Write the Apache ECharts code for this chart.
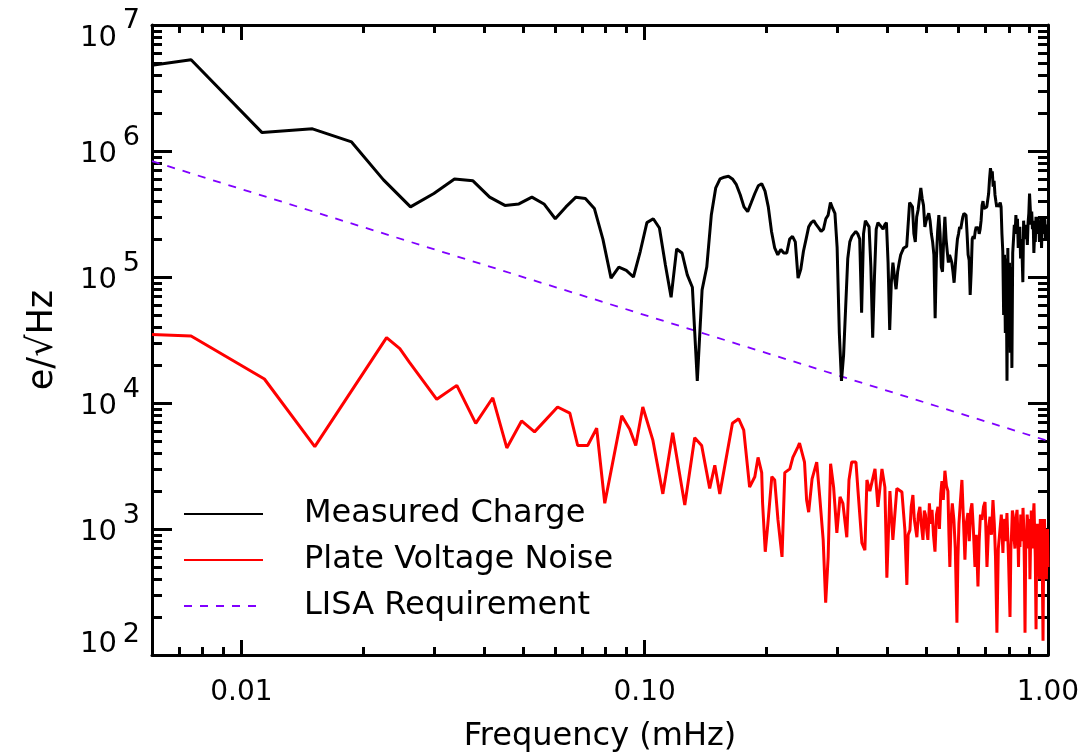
<!DOCTYPE html>
<html>
<head>
<meta charset="utf-8">
<script src="https://cdn.jsdelivr.net/npm/echarts@6/dist/echarts.min.js"></script>
<style>
  html, body { margin: 0; padding: 0; background: #fff; }
  #chart { width: 1087px; height: 755px; }
</style>
</head>
<body>
<div id="chart"></div>
<script>
// Series names
const seriesNames = ['Measured Charge', 'Plate Voltage Noise', 'LISA Requirement'];

// Measured charge spectrum: [frequency (mHz), e/sqrt(Hz)]
const measuredCharge = [
  [0.006,4.8e6],[0.0075,5.3e6],[0.01125,1.4e6],[0.015,1.5e6],[0.01875,1.18e6],[0.0225,5.9e5],
  [0.02625,3.6e5],[0.03,4.6e5],[0.03375,6.0e5],[0.0375,5.8e5],[0.04125,4.3e5],[0.045,3.7e5],
  [0.04875,3.8e5],[0.0525,4.3e5],[0.05625,3.8e5],[0.06,2.9e5],[0.06375,3.6e5],[0.0675,4.3e5],
  [0.07125,4.2e5],[0.075,3.5e5],[0.07875,2.0e5],[0.0825,9.8e4],[0.08625,1.2e5],[0.09,1.13e5],
  [0.09375,1.0e5],[0.0975,1.6e5],[0.10125,2.7e5],[0.105,2.9e5],[0.10875,2.45e5],[0.1125,1.25e5],
  [0.11625,6.9e4],[0.12,1.67e5],[0.12375,1.55e5],[0.1275,1.04e5],[0.13125,8.3e4],[0.135,1.5e4],
  [0.13875,7.9e4],[0.1425,1.2e5],[0.14625,3.1e5],[0.15,5.1e5],[0.15375,6.0e5],[0.1575,6.2e5],
  [0.16125,6.3e5],[0.165,6.0e5],[0.16875,5.4e5],[0.1725,4.5e5],[0.17625,3.6e5],[0.18,3.3e5],
  [0.18375,3.9e5],[0.1875,4.6e5],[0.19125,5.3e5],[0.195,5.5e5],[0.19875,4.8e5],[0.2025,3.6e5],
  [0.20625,2.3e5],[0.21,1.7e5],[0.21375,1.5e5],[0.2175,1.65e5],[0.22125,1.55e5],[0.225,1.55e5],
  [0.22875,2.0e5],[0.2325,2.1e5],[0.23625,1.9e5],[0.24,9.8e4],[0.24375,1.15e5],[0.2475,1.6e5],
  [0.25125,2.0e5],[0.255,2.5e5],[0.25875,2.7e5],[0.2625,2.8e5],[0.26625,2.6e5],[0.27,2.45e5],
  [0.27375,2.3e5],[0.2775,2.4e5],[0.28125,2.9e5],[0.285,3.1e5],[0.28875,3.9e5],[0.2925,3.5e5],
  [0.29625,3.2e5],[0.3,1.7e5],[0.30375,3.6e4],[0.3075,1.5e4],[0.31125,2.4e4],[0.315,5.8e4],
  [0.31875,1.4e5],[0.3225,1.9e5],[0.32625,2.1e5],[0.33,2.2e5],[0.33375,2.3e5],[0.3375,2.2e5],
  [0.34125,2.0e5],[0.345,5.2e4],[0.34875,2.2e5],[0.3525,2.8e5],[0.35625,2.8e5],[0.36,2.5e5],
  [0.36375,1.2e5],[0.3675,3.3e4],[0.37125,1.0e5],[0.375,2.4e5],[0.37875,2.7e5],[0.3825,2.7e5],
  [0.38625,2.5e5],[0.39,2.4e5],[0.39375,2.6e5],[0.3975,2.7e5],[0.40125,1.3e5],[0.405,3.8e4],
  [0.40875,9.0e4],[0.4125,1.3e5],[0.41625,1.0e5],[0.42,8.0e4],[0.42375,1.1e5],[0.4275,1.3e5],
  [0.43125,1.5e5],[0.435,1.6e5],[0.43875,1.7e5],[0.4425,1.7e5],[0.44625,1.75e5],[0.45,1.8e5],
  [0.45375,3.9e5],[0.4575,3.8e5],[0.46125,3.6e5],[0.465,2.2e5],[0.46875,1.9e5],[0.4725,3.0e5],
  [0.47625,3.4e5],[0.48,3.3e5],[0.48375,5.1e5],[0.4875,4.2e5],[0.49125,3.7e5],[0.495,2.5e5],
  [0.49875,2.8e5],[0.5025,3.0e5],[0.50625,3.2e5],[0.51,2.8e5],[0.51375,2.2e5],[0.5175,1.9e5],
  [0.52125,1.5e5],[0.525,4.7e4],[0.52875,1.4e5],[0.5325,2.3e5],[0.53625,3.1e5],[0.54,2.2e5],
  [0.54375,1.2e5],[0.5475,1.1e5],[0.55125,2.0e5],[0.555,3.0e5],[0.55875,2.0e5],[0.5625,1.6e5],
  [0.56625,1.3e5],[0.57,1.5e5],[0.57375,1.4e5],[0.5775,1.3e5],[0.58125,1.1e5],[0.585,9.0e4],
  [0.58875,1.2e5],[0.5925,1.6e5],[0.59625,2.0e5],[0.6,2.2e5],[0.60375,2.5e5],[0.6075,2.4e5],
  [0.61125,2.7e5],[0.615,3.0e5],[0.61875,3.2e5],[0.6225,3.3e5],[0.62625,3.1e5],[0.63,2.2e5],
  [0.63375,1.5e5],[0.6375,1.36e5],[0.64125,7.2e4],[0.645,1.1e5],[0.64875,2.0e5],[0.6525,2.1e5],
  [0.65625,2.0e5],[0.66,2.3e5],[0.66375,2.5e5],[0.6675,2.4e5],[0.67125,2.5e5],[0.675,2.2e5],
  [0.67875,2.4e5],[0.6825,2.8e5],[0.68625,3.7e5],[0.69,4.0e5],[0.69375,3.5e5],[0.6975,3.4e5],
  [0.70125,3.5e5],[0.705,3.6e5],[0.70875,3.5e5],[0.7125,4.6e5],[0.71625,6.0e5],[0.72,7.3e5],
  [0.72375,6.5e5],[0.7275,6.9e5],[0.73125,5.2e5],[0.735,5.8e5],[0.73875,4.5e5],[0.7425,4.0e5],
  [0.74625,3.6e5],[0.75,3.8e5],[0.75375,3.6e5],[0.7575,3.7e5],[0.76125,3.9e5],[0.765,3.6e5],
  [0.76875,2.2e5],[0.7725,1.6e5],[0.77625,5.0e4],[0.78,1.5e5],[0.78375,3.6e4],[0.7875,1.4e5],
  [0.79125,1.5e4],[0.795,1.7e5],[0.79875,4.0e4],[0.8025,1.3e5],[0.80625,2.5e4],[0.81,1.2e5],
  [0.81375,1.9e4],[0.8175,1.55e5],[0.82125,2.0e5],[0.825,2.6e5],[0.82875,2.2e5],[0.8325,3.1e5],
  [0.83625,2.4e5],[0.84,2.9e5],[0.84375,1.7e5],[0.8475,2.2e5],[0.85125,2.5e5],[0.855,1.4e5],
  [0.85875,2.0e5],[0.8625,1.5e5],[0.86625,9.1e4],[0.87,2.8e5],[0.87375,2.0e5],[0.8775,2.6e5],
  [0.88125,2.2e5],[0.885,2.4e5],[0.88875,1.8e5],[0.8925,2.7e5],[0.89625,3.2e5],[0.9,4.6e5],
  [0.90375,3.5e5],[0.9075,2.6e5],[0.91125,3.3e5],[0.915,2.4e5],[0.91875,2.8e5],[0.9225,1.55e5],
  [0.92625,2.2e5],[0.93,1.9e5],[0.93375,3.0e5],[0.9375,2.2e5],[0.94125,3.0e5],[0.945,2.3e5],
  [0.94875,2.6e5],[0.9525,1.9e5],[0.95625,2.5e5],[0.96,3.0e5],[0.96375,1.7e5],[0.9675,2.6e5],
  [0.97125,2.9e5],[0.975,2.2e5],[0.97875,3.0e5],[0.9825,2.8e5],[0.98625,2.0e5],[0.99,2.6e5],
  [0.99375,2.3e5],[0.9975,2.2e5]
];

// Plate voltage noise spectrum: [frequency (mHz), e/sqrt(Hz)]
const plateVoltageNoise = [
  [0.006,3.5e4],[0.0075,3.4e4],[0.0114,1.55e4],[0.0152,4.5e3],[0.0229,3.3e4],[0.0247,2.7e4],
  [0.0261,2.1e4],[0.0305,1.07e4],[0.0342,1.38e4],[0.0381,6.9e3],[0.042,1.1e4],[0.0455,4.4e3],
  [0.0495,7.2e3],[0.0533,5.9e3],[0.0608,9.3e3],[0.0652,8.3e3],[0.0682,4.6e3],[0.0722,4.6e3],
  [0.076,6.3e3],[0.0796,1.6e3],[0.0877,7.9e3],[0.0918,6.2e3],[0.095,4.6e3],[0.0989,9.3e3],
  [0.1047,5.1e3],[0.1109,1.9e3],[0.1173,5.8e3],[0.1257,1.55e3],[0.133,5.3e3],[0.1384,4.6e3],
  [0.1449,2.1e3],[0.1492,3.2e3],[0.1535,1.9e3],[0.165,6.9e3],[0.171,7.5e3],[0.176,6.1e3],
  [0.182,2.15e3],[0.1875,2.6e3],[0.191,3.7e3],[0.195,2.8e3],[0.196,1.6e3],[0.199,660],
  [0.202,1.1e3],[0.2066,2.6e3],[0.21,2.45e3],[0.214,1.18e3],[0.219,600],[0.2225,2.8e3],
  [0.229,3.0e3],[0.233,3.7e3],[0.24,4.5e3],[0.242,4.8e3],[0.249,3.4e3],[0.252,1.7e3],
  [0.255,1.36e3],[0.26,2.5e3],[0.267,3.4e3],[0.272,1.7e3],[0.277,820],[0.281,260],
  [0.285,600],[0.289,3.3e3],[0.294,2.15e3],[0.2995,930],[0.305,1.8e3],[0.31,1.6e3],
  [0.317,860],[0.321,2.45e3],[0.326,3.4e3],[0.334,3.4e3],[0.338,2.0e3],[0.3455,775],
  [0.3515,680],[0.3556,2.45e3],[0.3617,2.0e3],[0.3724,3.0e3],[0.3787,1.5e3],[0.3875,3.0e3],
  [0.394,2.15e3],[0.3985,410],[0.4055,2.0e3],[0.4124,820],[0.4219,2.1e3],[0.4342,1.97e3],
  [0.4417,980],[0.4467,360],[0.45,900],[0.4545,980],[0.458,1.5e3],[0.4624,1.86e3],
  [0.466,1.2e3],[0.473,860],[0.477,1.3e3],[0.4812,1.5e3],[0.485,1.1e3],[0.4897,820],
  [0.4935,1.4e3],[0.4967,1.3e3],[0.5,1.0e3],[0.5037,820],[0.508,1.6e3],[0.512,1.1e3],
  [0.5157,1.42e3],[0.52,900],[0.5245,660],[0.529,1.3e3],[0.5336,1.5e3],[0.538,1.0e3],
  [0.542,1.9e3],[0.5457,2.4e3],[0.55,1.7e3],[0.5551,2.9e3],[0.56,2.2e3],[0.5647,2.0e3],
  [0.568,900],[0.571,500],[0.575,1.2e3],[0.579,1.6e3],[0.5843,1.18e3],[0.589,700],
  [0.5945,180],[0.598,600],[0.6014,1.1e3],[0.606,1.6e3],[0.6117,2.45e3],[0.617,1.2e3],
  [0.6223,570],[0.627,1.1e3],[0.633,1.34e3],[0.638,800],[0.643,1.4e3],[0.6477,1.6e3],
  [0.653,1.0e3],[0.659,500],[0.664,900],[0.6704,350],[0.675,800],[0.68,1.3e3],
  [0.686,1.18e3],[0.692,1.5e3],[0.698,1.64e3],[0.702,900],[0.7058,500],[0.712,1.0e3],
  [0.718,1.25e3],[0.724,900],[0.7304,1.7e3],[0.736,1.1e3],[0.741,600],[0.747,150],
  [0.753,700],[0.76,980],[0.766,1.3e3],[0.773,645],[0.777,1.1e3],[0.781,1.2e3],
  [0.786,800],[0.791,1.34e3],[0.798,600],[0.805,200],[0.809,700],[0.812,900],
  [0.816,1.4e3],[0.819,1.3e3],[0.823,900],[0.828,700],[0.833,1.2e3],[0.838,1.42e3],
  [0.842,900],[0.845,500],[0.848,1.0e3],[0.852,720],[0.856,1.3e3],[0.86,1.2e3],
  [0.864,800],[0.867,1.47e3],[0.871,1.0e3],[0.874,500],[0.877,150],[0.881,900],
  [0.884,700],[0.888,1.3e3],[0.892,1.04e3],[0.896,700],[0.899,1.2e3],[0.902,400],
  [0.906,900],[0.909,1.4e3],[0.9127,1.18e3],[0.916,700],[0.92,1.3e3],[0.923,1.6e3],
  [0.927,900],[0.93,600],[0.934,160],[0.937,700],[0.941,1.1e3],[0.9445,980],
  [0.948,600],[0.953,400],[0.957,1.2e3],[0.961,820],[0.965,1.2e3],[0.968,500],
  [0.972,130],[0.976,800],[0.98,1.2e3],[0.983,720],[0.987,1.0e3],[0.991,400],
  [0.994,930],[0.997,1.0e3],[1.0,500]
];

// LISA requirement: [frequency (mHz), e/sqrt(Hz)]
const lisaRequirement = [[0.006, 8.3e5], [1.0, 5.0e3]];

// Axis ranges and tick values
const xRange = [0.006, 1.0];
const yRange = [1e2, 1e7];
const xMajorTicks = [0.01, 0.1, 1.0];
const xMinorTicks = [0.007, 0.008, 0.009, 0.02, 0.03, 0.04, 0.05, 0.06, 0.07, 0.08, 0.09,
                     0.2, 0.3, 0.4, 0.5, 0.6, 0.7, 0.8, 0.9];
const yMajorTicks = [1e2, 1e3, 1e4, 1e5, 1e6, 1e7];
const yMinorTicks = [
  200, 300, 400, 500, 600, 700, 800, 900,
  2e3, 3e3, 4e3, 5e3, 6e3, 7e3, 8e3, 9e3,
  2e4, 3e4, 4e4, 5e4, 6e4, 7e4, 8e4, 9e4,
  2e5, 3e5, 4e5, 5e5, 6e5, 7e5, 8e5, 9e5,
  2e6, 3e6, 4e6, 5e6, 6e6, 7e6, 8e6, 9e6
];
// Decade labels (10 with a raised exponent); bottom and top ones sit nudged inward
const yLabelsMid = [1e3, 1e4, 1e5, 1e6];
const yLabelsLow = [1e2];
const yLabelsTop = [1e7];

const FONT = 'DejaVu Sans';
const INK = '#000';
const FRAME_W = 3;

function xAxisDef(position, major, showLabels) {
  return {
    type: 'log', logBase: 10, position: position,
    min: xRange[0], max: xRange[1],
    axisLine: { show: major, lineStyle: { color: INK, width: FRAME_W } },
    axisTick: {
      show: true, inside: true, length: major ? 15 : 8,
      customValues: major ? xMajorTicks : xMinorTicks,
      lineStyle: { color: INK, width: FRAME_W }
    },
    axisLabel: {
      show: showLabels, customValues: xMajorTicks, margin: 24,
      color: INK, fontFamily: FONT, fontSize: 28,
      formatter: function (v) { return Number(v).toFixed(2); }
    },
    splitLine: { show: false }, minorTick: { show: false }
  };
}

function yFrameAxis(position, major) {
  return {
    type: 'log', logBase: 10, position: position,
    min: yRange[0], max: yRange[1],
    axisLine: { show: major, lineStyle: { color: INK, width: FRAME_W } },
    axisTick: {
      show: true, inside: true, length: major ? 20 : 10,
      customValues: major ? yMajorTicks : yMinorTicks,
      lineStyle: { color: INK, width: FRAME_W }
    },
    axisLabel: { show: false },
    splitLine: { show: false }, minorTick: { show: false }
  };
}

// Label-only axis: either the "10" base or the exponent of each decade.
// The vertical anchor and line height set how far the text sits from its tick.
function yLabelAxis(values, part, margin, vAlign, lineHeight, fontSize) {
  return {
    type: 'log', logBase: 10, position: 'left',
    min: yRange[0], max: yRange[1],
    axisLine: { show: false }, axisTick: { show: false },
    splitLine: { show: false }, minorTick: { show: false },
    axisLabel: {
      show: true, customValues: values, margin: margin,
      verticalAlign: vAlign, lineHeight: lineHeight,
      color: INK, fontFamily: FONT, fontSize: fontSize, align: 'right',
      formatter: function (v) {
        return part === 'base' ? '10' : String(Math.round(Math.log10(v)));
      }
    }
  };
}

const xAxes = [xAxisDef('bottom', true, true), xAxisDef('bottom', false, false),
               xAxisDef('top', true, false), xAxisDef('top', false, false)];
xAxes[0].name = 'Frequency (mHz)';
xAxes[0].nameLocation = 'middle';
xAxes[0].nameGap = 66;
xAxes[0].nameTextStyle = { color: INK, fontFamily: FONT, fontSize: 32 };

const yAxes = [
  yFrameAxis('left', true), yFrameAxis('left', false),
  yFrameAxis('right', true), yFrameAxis('right', false),
  yLabelAxis(yLabelsMid, 'base', 35, 'top', 6, 29),
  yLabelAxis(yLabelsMid, 'exp', 12, 'bottom', 26, 27),
  yLabelAxis(yLabelsLow, 'base', 35, 'bottom', 22, 29),
  yLabelAxis(yLabelsLow, 'exp', 12, 'bottom', 40, 27),
  yLabelAxis(yLabelsTop, 'base', 35, 'top', 26, 29),
  yLabelAxis(yLabelsTop, 'exp', 12, 'bottom', 8, 27)
];
yAxes[0].name = 'e/\u221AHz';
yAxes[0].nameLocation = 'middle';
yAxes[0].nameRotate = 90;
yAxes[0].nameGap = 92;
yAxes[0].nameTextStyle = { color: INK, fontFamily: FONT, fontSize: 35 };

const chart = echarts.init(document.getElementById('chart'), null, { renderer: 'canvas' });
chart.setOption({
  animation: false,
  backgroundColor: '#fff',
  textStyle: { fontFamily: FONT },
  grid: { left: 152, right: 39, top: 25, bottom: 100, containLabel: false, outerBoundsMode: 'none' },
  xAxis: xAxes,
  yAxis: yAxes,
  legend: {
    orient: 'vertical', left: 183, top: 498, padding: 0,
    itemWidth: 79, itemHeight: 14, itemGap: 14,
    itemStyle: { color: 'rgba(0,0,0,0)', borderWidth: 0, opacity: 0 },
    textStyle: { color: INK, fontFamily: FONT, fontSize: 32, padding: [0, 0, 0, 36] },
    data: seriesNames
  },
  series: [
    {
      name: seriesNames[0], type: 'line', data: measuredCharge, symbol: 'none',
      xAxisIndex: 0, yAxisIndex: 0, clip: true,
      lineStyle: { color: '#000', width: 3 }, itemStyle: { color: '#000' }, z: 3
    },
    {
      name: seriesNames[1], type: 'line', data: plateVoltageNoise, symbol: 'none',
      xAxisIndex: 0, yAxisIndex: 0, clip: true,
      lineStyle: { color: '#ff0000', width: 3 }, itemStyle: { color: '#ff0000' }, z: 2
    },
    {
      name: seriesNames[2], type: 'line', data: lisaRequirement, symbol: 'none',
      xAxisIndex: 0, yAxisIndex: 0, clip: true,
      lineStyle: { color: '#8000ff', width: 1.8, type: [8, 8] }, itemStyle: { color: '#8000ff' }, z: 1
    }
  ]
});
</script>
</body>
</html>
